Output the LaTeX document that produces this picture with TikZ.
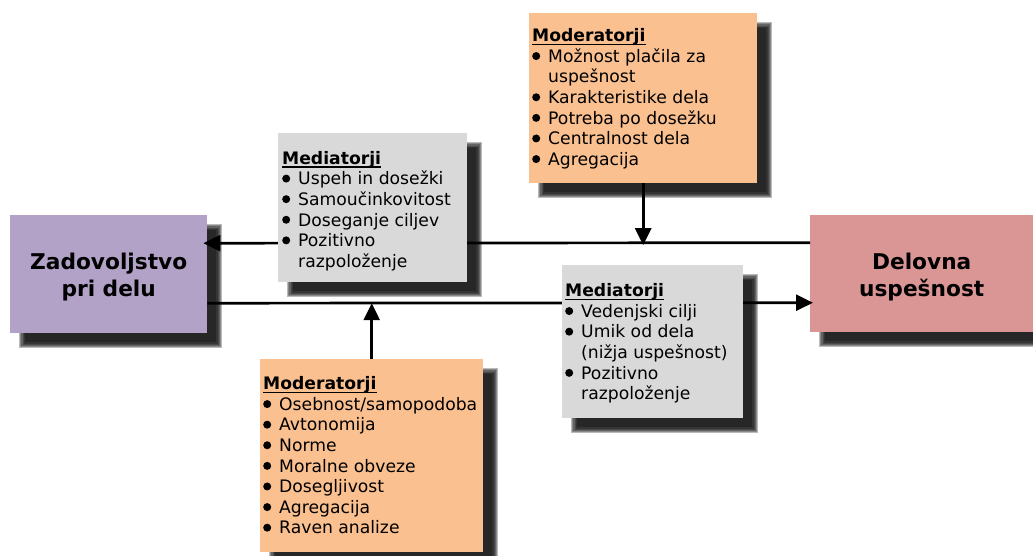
\documentclass[tikz,border=0pt]{standalone}
\usepackage{fontspec}
\setmainfont{DejaVu Sans}
\usetikzlibrary{arrows.meta,calc}

\definecolor{lilac}{HTML}{B3A2C7}
\definecolor{rose}{HTML}{D99694}
\definecolor{peach}{HTML}{FAC090}
\definecolor{pale}{HTML}{D9D9D9}

% list helpers
\newcommand{\bul}{\makebox[16pt][l]{\tikz[baseline=-6.3pt]\fill[black] (0,0) circle (4pt);}}
\newcommand{\ind}{\hspace*{16pt}}
\newcommand{\hd}[1]{\rule{0pt}{13pt}\setbox0\hbox{\textbf{#1}}\rlap{\rule[-3.5pt]{\wd0}{1.6pt}}\box0}
\newcommand{\lift}{\rule{0pt}{22.5pt}}

% soft drop shadow behind a named box
\newcommand{\boxshadow}[1]{%
  \foreach \d in {-3,-1.8,-0.6,0.6,1.8,3}{%
    \fill[black, opacity=0.27]
      ($(#1.north west)+(12+\d,12+\d)$) rectangle ($(#1.south east)+(12-\d,12-\d)$);
  }%
}

\pgfdeclarelayer{shade}
\pgfdeclarelayer{big}
\pgfdeclarelayer{wires}
\pgfsetlayers{shade,big,wires,main}

\tikzset{
  box/.style={draw=none, inner sep=0pt, anchor=north west},
  bigtext/.style={align=center, font=\fontsize{21.7}{27}\selectfont\bfseries},
  listtext/.style={anchor=north west, inner sep=0pt, align=left,
    font=\fontsize{17.2}{20.6}\selectfont},
  conn/.style={line width=2.7pt, -{Triangle[length=17pt,width=16pt]}},
}

\begin{document}
\begin{tikzpicture}[x=1pt, y=-1pt]
\useasboundingbox (0,0) rectangle (1033,556);

% main concepts
\begin{pgfonlayer}{big}
\node[box, bigtext, fill=lilac, minimum width=197pt, minimum height=118pt] (zad) at (10,215)
  {\lift Zadovoljstvo\\pri delu};
\node[box, bigtext, fill=rose, minimum width=223pt, minimum height=117pt] (del) at (810,215)
  {\lift Delovna\\uspešnost};
\end{pgfonlayer}

% mediator and moderator boxes
\node[box, fill=pale, minimum width=189pt, minimum height=149pt] (m1) at (278,133) {};
\node[box, fill=peach, minimum width=228pt, minimum height=170pt] (mt) at (529,13) {};
\node[box, fill=pale, minimum width=181pt, minimum height=153pt] (m2) at (562,265) {};
\node[box, fill=peach, minimum width=223pt, minimum height=193pt] (mb) at (260,359) {};

\node[listtext] (m1t) at ($(m1.north west)+(4,18)$) {%
  \hd{Mediatorji}\\
  \bul Uspeh in dosežki\\
  \bul Samoučinkovitost\\
  \bul Doseganje ciljev\\
  \bul Pozitivno\\
  \ind razpoloženje};

\node[listtext] (mtt) at ($(mt.north west)+(3,15.5)$) {%
  \hd{Moderatorji}\\
  \bul Možnost plačila za\\
  \ind uspešnost\\
  \bul Karakteristike dela\\
  \bul Potreba po dosežku\\
  \bul Centralnost dela\\
  \bul Agregacija};

\node[listtext] (m2t) at ($(m2.north west)+(3,18.5)$) {%
  \hd{Mediatorji}\\
  \bul Vedenjski cilji\\
  \bul Umik od dela\\
  \ind (nižja uspešnost)\\
  \bul Pozitivno\\
  \ind razpoloženje};

\node[listtext] (mbt) at ($(mb.north west)+(3,17.5)$) {%
  \hd{Moderatorji}\\
  \bul Osebnost/samopodoba\\
  \bul Avtonomija\\
  \bul Norme\\
  \bul Moralne obveze\\
  \bul Dosegljivost\\
  \bul Agregacija\\
  \bul Raven analize};

% shadows
\begin{pgfonlayer}{shade}
\boxshadow{zad}
\boxshadow{del}
\boxshadow{m1}
\boxshadow{mt}
\boxshadow{m2}
\boxshadow{mb}
\end{pgfonlayer}

% connectors
\begin{pgfonlayer}{wires}
\coordinate (topy) at ([yshift=31pt]zad.east);
\coordinate (boty) at ([yshift=-29pt]zad.east);
\draw[conn] ([yshift=31pt]del.west) -- ([yshift=31pt,xshift=-4pt]zad.east);
\draw[conn] ([yshift=-29pt]zad.east) -- ([yshift=-29pt,xshift=3pt]del.west);
\draw[conn] (mt.south) -- ([yshift=-2pt]mt.south |- topy);
\draw[conn] (mb.north) -- (mb.north |- boty);
\end{pgfonlayer}
\end{tikzpicture}
\end{document}
